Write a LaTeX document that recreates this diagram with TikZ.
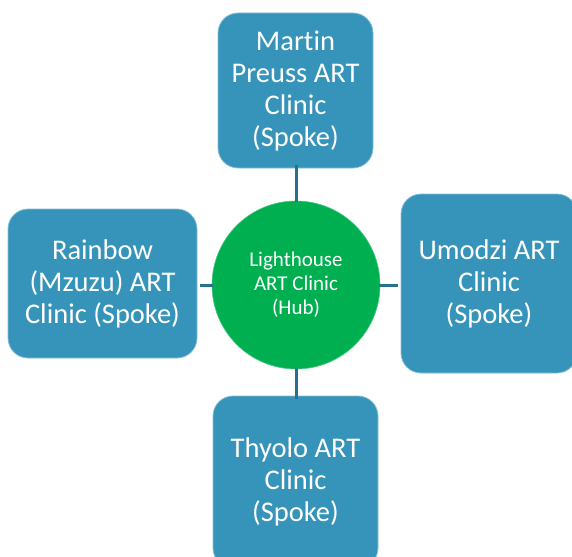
\documentclass[tikz,border=0pt]{standalone}
\usepackage{fontspec}
\setmainfont{Carlito}[Ligatures=NoCommon]
\definecolor{boxblue}{RGB}{54,148,186}
\definecolor{hubgreen}{RGB}{0,176,80}
\definecolor{linkteal}{RGB}{38,112,146}
\tikzset{
  spoke/.style={rectangle, rounded corners=20pt, fill=boxblue, draw=boxblue!60!white, line width=0.8pt,
    text=white, align=center, font=\fontsize{28.5}{32}\selectfont, inner sep=0pt},
  hub/.style={circle, fill=hubgreen, draw=hubgreen!70!white, line width=0.6pt, text=white, align=center,
    font=\fontsize{21}{24}\selectfont, minimum size=168pt, inner sep=0pt},
  link/.style={draw=linkteal, line width=3pt}
}
\begin{document}
\begin{tikzpicture}[x=1pt,y=-1pt]
\useasboundingbox (0,0) rectangle (572,556);
\node[hub] (hub) at (296,285) {Lighthouse\\ART Clinic\\(Hub)};
\node[spoke, minimum width=155pt, minimum height=155pt] (top) at (295.5,90.5) {Martin\\Preuss ART\\Clinic\\(Spoke)};
\node[spoke, minimum width=189pt, minimum height=149pt] (left) at (102.5,283.5) {Rainbow\\(Mzuzu) ART\\Clinic (Spoke)};
\node[spoke, minimum width=176pt, minimum height=179pt] (right) at (489,283.5) {Umodzi ART\\Clinic\\(Spoke)};
\node[spoke, minimum width=165pt, minimum height=172pt] (bottom) at (295.5,482) {Thyolo ART\\Clinic\\(Spoke)};
\draw[link] ([yshift=3pt]top.south -| hub.north) -- ([yshift=-1pt]hub.north);
\draw[link] ([yshift=-3pt]bottom.north -| hub.south) -- ([yshift=1pt]hub.south);
\draw[link] ([xshift=3pt]hub.west -| left.east) -- ([xshift=1pt]hub.west);
\draw[link] ([xshift=-3pt]hub.east -| right.west) -- ([xshift=-1pt]hub.east);
\end{tikzpicture}
\end{document}
